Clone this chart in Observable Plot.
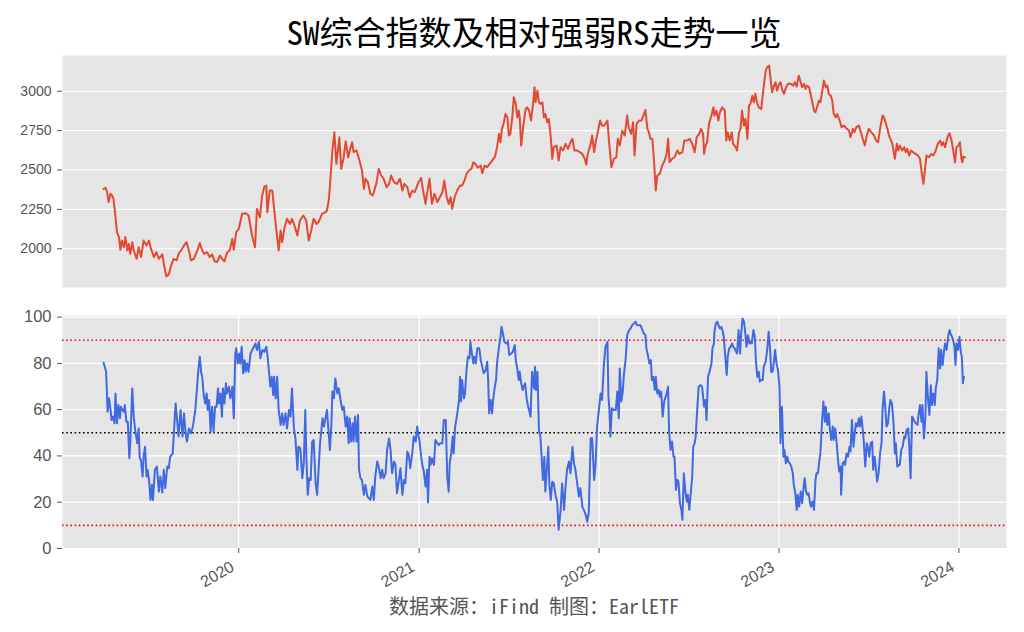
<!DOCTYPE html>
<html>
<head>
<meta charset="utf-8">
<script src="https://cdn.jsdelivr.net/npm/d3@7"></script>
<script src="https://cdn.jsdelivr.net/npm/@observablehq/plot@0.6"></script>
<style>
  html, body { margin: 0; padding: 0; background: #ffffff; }
  #wrap { position: relative; width: 1024px; height: 632px; overflow: hidden; background: #fff; }
  #title { position: absolute; left: 62px; width: 944px; top: 11px; text-align: center;
           font-family: "Noto Sans Mono CJK SC", "Noto Sans CJK SC", sans-serif; font-size: 33px; line-height: 40px; color: #000; }
  #top { position: absolute; left: 0; top: 45px; }
  #bottom { position: absolute; left: 0; top: 305px; }
  #caption { position: absolute; left: 62px; width: 944px; top: 595px; text-align: center;
             font-family: "Noto Sans Mono CJK SC", "Noto Sans CJK SC", sans-serif; font-size: 20px; line-height: 22px; color: #555; }
</style>
</head>
<body>
<div id="wrap">
  <div id="title"></div>
  <div id="top"></div>
  <div id="bottom"></div>
  <div id="caption"></div>
</div>
<script>
const titleText = "SW综合指数及相对强弱RS走势一览";
const captionText = "数据来源：iFind 制图：EarlETF";

// SW composite index
const indexDates = [
"2019-04-02","2019-04-06","2019-04-09","2019-04-12","2019-04-16","2019-04-19","2019-04-22","2019-04-26","2019-04-29",
"2019-05-03","2019-05-06","2019-05-09","2019-05-13","2019-05-16","2019-05-20","2019-05-23","2019-05-26","2019-05-30",
"2019-06-02","2019-06-08","2019-06-12","2019-06-17","2019-06-22","2019-06-28",
"2019-07-03","2019-07-07","2019-07-13","2019-07-18","2019-07-23","2019-07-30",
"2019-08-02","2019-08-07","2019-08-12","2019-08-17","2019-08-22","2019-08-28",
"2019-09-01","2019-09-06","2019-09-12","2019-09-17","2019-09-22","2019-09-26",
"2019-10-02","2019-10-09","2019-10-14","2019-10-19","2019-10-23","2019-10-29",
"2019-11-03","2019-11-08","2019-11-13","2019-11-18","2019-11-24","2019-11-28",
"2019-12-03","2019-12-08","2019-12-14","2019-12-19","2019-12-22","2019-12-27",
"2020-01-01","2020-01-08","2020-01-15","2020-01-21","2020-01-28",
"2020-02-03","2020-02-07","2020-02-13","2020-02-17","2020-02-22","2020-02-26","2020-02-28",
"2020-03-04","2020-03-09","2020-03-16","2020-03-19","2020-03-22","2020-03-26","2020-03-29",
"2020-04-03","2020-04-08","2020-04-14","2020-04-18","2020-04-23","2020-04-29",
"2020-05-04","2020-05-11","2020-05-17","2020-05-22","2020-05-27",
"2020-06-01","2020-06-07","2020-06-11","2020-06-18","2020-06-25","2020-06-28",
"2020-07-02","2020-07-05","2020-07-09","2020-07-13","2020-07-17","2020-07-21","2020-07-23","2020-07-27",
"2020-08-01","2020-08-05","2020-08-10","2020-08-15","2020-08-18","2020-08-21","2020-08-27",
"2020-09-01","2020-09-07","2020-09-11","2020-09-14","2020-09-19","2020-09-24","2020-09-29",
"2020-10-06","2020-10-11","2020-10-16","2020-10-21","2020-10-27",
"2020-11-01","2020-11-05","2020-11-11","2020-11-17","2020-11-23","2020-11-28",
"2020-12-02","2020-12-08","2020-12-13","2020-12-18","2020-12-23","2020-12-27","2020-12-31",
"2021-01-05","2021-01-09","2021-01-14","2021-01-17","2021-01-22","2021-01-27",
"2021-02-01","2021-02-07","2021-02-12","2021-02-17","2021-02-21","2021-02-26",
"2021-03-02","2021-03-06","2021-03-09","2021-03-14","2021-03-19","2021-03-25","2021-03-29",
"2021-04-03","2021-04-07","2021-04-12","2021-04-17","2021-04-21","2021-04-25","2021-04-30",
"2021-05-06","2021-05-09","2021-05-14","2021-05-19","2021-05-24","2021-05-29",
"2021-06-04","2021-06-08","2021-06-12","2021-06-15","2021-06-18","2021-06-22","2021-06-25","2021-06-29",
"2021-07-02","2021-07-05","2021-07-09","2021-07-12","2021-07-16","2021-07-19","2021-07-22","2021-07-24","2021-07-27","2021-07-31",
"2021-08-05","2021-08-08","2021-08-12","2021-08-16","2021-08-20","2021-08-23","2021-08-25","2021-08-29",
"2021-09-01","2021-09-04","2021-09-08","2021-09-11","2021-09-14","2021-09-18","2021-09-21","2021-09-25","2021-09-28",
"2021-10-01","2021-10-07","2021-10-11","2021-10-15","2021-10-20","2021-10-25","2021-10-30",
"2021-11-04","2021-11-08","2021-11-12","2021-11-18","2021-11-23","2021-11-28",
"2021-12-03","2021-12-06","2021-12-09","2021-12-15","2021-12-18","2021-12-22","2021-12-25","2021-12-30",
"2022-01-03","2022-01-07","2022-01-12","2022-01-18","2022-01-21","2022-01-26","2022-01-31",
"2022-02-05","2022-02-08","2022-02-12","2022-02-17","2022-02-22","2022-02-27",
"2022-03-02","2022-03-07","2022-03-11","2022-03-14","2022-03-18","2022-03-23","2022-03-28",
"2022-04-02","2022-04-05","2022-04-09","2022-04-12","2022-04-15","2022-04-19","2022-04-22","2022-04-26","2022-04-29",
"2022-05-04","2022-05-09","2022-05-14","2022-05-18","2022-05-21","2022-05-24","2022-05-29",
"2022-06-03","2022-06-09","2022-06-13","2022-06-19","2022-06-23","2022-06-29",
"2022-07-04","2022-07-09","2022-07-14","2022-07-18","2022-07-23","2022-07-27","2022-07-31",
"2022-08-02","2022-08-05","2022-08-08","2022-08-12","2022-08-17","2022-08-21","2022-08-23","2022-08-27","2022-08-31",
"2022-09-03","2022-09-08","2022-09-13","2022-09-16","2022-09-19","2022-09-23","2022-09-27","2022-09-30",
"2022-10-05","2022-10-08","2022-10-12","2022-10-15","2022-10-18","2022-10-22","2022-10-25","2022-10-29",
"2022-11-01","2022-11-04","2022-11-08","2022-11-11","2022-11-14","2022-11-18","2022-11-21","2022-11-26","2022-11-30",
"2022-12-05","2022-12-08","2022-12-12","2022-12-15","2022-12-18","2022-12-22","2022-12-25","2022-12-28",
"2023-01-01","2023-01-04","2023-01-08","2023-01-11","2023-01-14","2023-01-19","2023-01-25","2023-01-30",
"2023-02-02","2023-02-06","2023-02-10","2023-02-14","2023-02-17","2023-02-21","2023-02-24","2023-02-27",
"2023-03-03","2023-03-06","2023-03-09","2023-03-13","2023-03-16","2023-03-20","2023-03-23","2023-03-26","2023-03-30",
"2023-04-02","2023-04-06","2023-04-09","2023-04-12","2023-04-16","2023-04-19","2023-04-22","2023-04-26","2023-04-29",
"2023-05-04","2023-05-08","2023-05-13","2023-05-17","2023-05-23","2023-05-26","2023-05-31",
"2023-06-03","2023-06-07","2023-06-12","2023-06-17","2023-06-21","2023-06-24","2023-06-28",
"2023-07-02","2023-07-07","2023-07-13","2023-07-17","2023-07-21","2023-07-25","2023-07-30",
"2023-08-02","2023-08-05","2023-08-09","2023-08-12","2023-08-15","2023-08-19","2023-08-24","2023-08-28","2023-08-31",
"2023-09-03","2023-09-08","2023-09-12","2023-09-15","2023-09-18","2023-09-22","2023-09-26","2023-09-30",
"2023-10-05","2023-10-10","2023-10-14","2023-10-17","2023-10-21","2023-10-24","2023-10-27",
"2023-11-01","2023-11-06","2023-11-10","2023-11-15","2023-11-19","2023-11-24","2023-11-27","2023-11-30",
"2023-12-04","2023-12-07","2023-12-10","2023-12-13","2023-12-17","2023-12-20","2023-12-24","2023-12-27","2023-12-31",
"2024-01-03","2024-01-06","2024-01-08","2024-01-10","2024-01-13"
];
const indexValues = [
2380,2387,2359,2296,2349,2338,2317,2200,2105,
2074,1993,2052,2010,2074,1989,2031,1968,2042,
1989,1936,2010,1947,2052,2021,
2052,1999,1947,1978,1936,1964,
1904,1824,1837,1894,1936,1926,
1968,1989,2021,2042,1989,1926,
1936,1989,2036,1989,1968,1978,
1947,1964,1921,1915,1957,1936,
1921,1972,1993,2063,1993,2105,
2126,2222,2226,2211,2084,
2010,2253,2200,2327,2395,2401,2232,
2370,2370,2158,2074,1989,2116,2042,
2137,2190,2158,2190,2148,2084,
2179,2211,2179,2052,2116,
2190,2158,2169,2222,2232,2243,
2317,2444,2624,2740,2539,2645,2708,2507,
2581,2683,2581,2645,2676,2613,2624,
2571,2497,2380,2444,2423,2349,2338,
2412,2507,2465,2444,2391,
2412,2465,2423,2412,2444,2370,
2412,2391,2327,2370,2359,2391,2423,
2450,2370,2285,2349,2444,2285,
2349,2296,2327,2359,2433,2327,
2285,2327,2253,2327,2370,2401,2401,
2433,2475,2497,2507,2549,2539,2514,
2528,2480,2528,2518,2539,2560,
2585,2645,2729,2676,2761,2803,2856,2835,
2719,2729,2835,2962,2920,2835,2877,2835,2655,2772,
2888,2898,2877,2814,2920,3025,2930,3004,
2930,2920,2930,2835,2856,2803,2824,2708,2571,
2645,2655,2560,2645,2624,2666,2634,
2676,2698,2624,2624,2613,2602,
2571,2533,2602,2666,2719,2613,2676,2750,
2814,2782,2782,2814,2687,2518,2571,
2581,2698,2655,2750,2719,2846,
2772,2729,2803,2592,2793,2814,2814,
2856,2881,2761,2740,2698,2698,2581,2370,2465,
2475,2528,2560,2602,2698,2549,2571,
2581,2624,2602,2613,2687,2687,
2698,2666,2613,2708,2729,2761,2729,
2602,2655,2676,2793,2846,2898,2846,2877,2814,
2867,2898,2877,2687,2740,2687,2740,2666,
2645,2624,2740,2761,2877,2782,2824,2698,
2909,2920,2972,2930,2983,2920,2898,2888,3004,
3131,3152,3163,3078,2994,3036,3057,3004,
3047,3057,3004,2983,3015,3047,3047,3036,
3057,3030,3099,3057,3025,3047,3015,3036,
3025,2983,2941,2877,2867,2909,2941,2930,3004,
3068,3025,3036,2983,2972,2941,2856,2835,2856,
2814,2772,2782,2767,2750,2708,2761,
2740,2772,2782,2729,2687,2655,2719,
2761,2740,2719,2687,2676,2761,2846,
2835,2803,2761,2719,2698,2666,2571,2666,2624,
2655,2624,2645,2613,2634,2592,2624,2613,
2602,2592,2571,2497,2412,2497,2592,
2581,2602,2592,2624,2666,2687,2655,2676,
2645,2687,2719,2733,2687,2634,2549,2645,2655,
2676,2571,2549,2585,2581
];

// Relative strength RS
const rsDates = [
"2019-04-02","2019-04-07","2019-04-10","2019-04-13","2019-04-16","2019-04-18","2019-04-21","2019-04-24","2019-04-26","2019-04-29",
"2019-05-02","2019-05-05","2019-05-07","2019-05-10","2019-05-13","2019-05-15","2019-05-18","2019-05-21","2019-05-24","2019-05-26","2019-05-30",
"2019-06-02","2019-06-05","2019-06-09","2019-06-12","2019-06-14","2019-06-17","2019-06-20","2019-06-22","2019-06-25","2019-06-28","2019-06-30",
"2019-07-03","2019-07-06","2019-07-09","2019-07-11","2019-07-15","2019-07-19","2019-07-23","2019-07-26","2019-07-30",
"2019-08-02","2019-08-05","2019-08-09","2019-08-12","2019-08-15","2019-08-20","2019-08-22","2019-08-26","2019-08-29",
"2019-09-01","2019-09-05","2019-09-09","2019-09-12","2019-09-15","2019-09-18","2019-09-22","2019-09-26","2019-09-30",
"2019-10-05","2019-10-09","2019-10-11","2019-10-14","2019-10-17","2019-10-19","2019-10-22","2019-10-25","2019-10-28","2019-10-30",
"2019-11-02","2019-11-05","2019-11-08","2019-11-11","2019-11-14","2019-11-17","2019-11-20","2019-11-22","2019-11-25","2019-11-28","2019-11-30",
"2019-12-03","2019-12-06","2019-12-08","2019-12-12","2019-12-15","2019-12-19","2019-12-22","2019-12-25","2019-12-27","2019-12-30",
"2020-01-02","2020-01-04","2020-01-07","2020-01-10","2020-01-13","2020-01-15","2020-01-18","2020-01-21","2020-01-25","2020-01-30",
"2020-02-04","2020-02-07","2020-02-11","2020-02-14","2020-02-18","2020-02-22","2020-02-26","2020-02-29",
"2020-03-03","2020-03-05","2020-03-08","2020-03-11","2020-03-13","2020-03-16","2020-03-19","2020-03-22","2020-03-26","2020-03-29",
"2020-04-01","2020-04-05","2020-04-08","2020-04-12","2020-04-15","2020-04-18","2020-04-22","2020-04-25","2020-04-29",
"2020-05-01","2020-05-05","2020-05-09","2020-05-12","2020-05-15","2020-05-17","2020-05-20","2020-05-23","2020-05-26","2020-05-29",
"2020-06-01","2020-06-05","2020-06-08","2020-06-11","2020-06-14","2020-06-16","2020-06-19","2020-06-22","2020-06-25","2020-06-28",
"2020-07-01","2020-07-04","2020-07-07","2020-07-09","2020-07-12","2020-07-15","2020-07-19","2020-07-22","2020-07-25","2020-07-29",
"2020-08-01","2020-08-05","2020-08-08","2020-08-11","2020-08-13","2020-08-16","2020-08-19","2020-08-21","2020-08-24","2020-08-27","2020-08-30",
"2020-09-01","2020-09-04","2020-09-07","2020-09-11","2020-09-14","2020-09-18","2020-09-21","2020-09-24","2020-09-28",
"2020-10-01","2020-10-04","2020-10-08","2020-10-11","2020-10-15","2020-10-18","2020-10-21","2020-10-25","2020-10-28",
"2020-11-01","2020-11-04","2020-11-07","2020-11-11","2020-11-14","2020-11-17","2020-11-21","2020-11-24","2020-11-28",
"2020-12-01","2020-12-04","2020-12-08","2020-12-11","2020-12-14","2020-12-18","2020-12-21","2020-12-25","2020-12-28","2020-12-31",
"2021-01-02","2021-01-05","2021-01-08","2021-01-10","2021-01-14","2021-01-17","2021-01-19","2021-01-22","2021-01-24","2021-01-27","2021-01-31",
"2021-02-03","2021-02-07","2021-02-10","2021-02-13","2021-02-17","2021-02-20","2021-02-24","2021-02-27",
"2021-03-02","2021-03-04","2021-03-07","2021-03-10","2021-03-12","2021-03-15","2021-03-19","2021-03-23","2021-03-25","2021-03-27","2021-03-29",
"2021-04-02","2021-04-04","2021-04-07","2021-04-10","2021-04-13","2021-04-15","2021-04-18","2021-04-21","2021-04-23","2021-04-26","2021-04-29",
"2021-05-03","2021-05-06","2021-05-09","2021-05-12","2021-05-16","2021-05-19","2021-05-21","2021-05-23","2021-05-26","2021-05-29","2021-05-31",
"2021-06-03","2021-06-06","2021-06-08","2021-06-12","2021-06-15","2021-06-17","2021-06-20","2021-06-23","2021-06-27","2021-06-30",
"2021-07-03","2021-07-07","2021-07-10","2021-07-14","2021-07-16","2021-07-19","2021-07-22","2021-07-24","2021-07-27","2021-07-30",
"2021-08-01","2021-08-04","2021-08-07","2021-08-10","2021-08-12","2021-08-15","2021-08-18","2021-08-22","2021-08-24","2021-08-26","2021-08-29",
"2021-09-01","2021-09-04","2021-09-06","2021-09-09","2021-09-12","2021-09-14","2021-09-17","2021-09-20","2021-09-22","2021-09-25","2021-09-28",
"2021-10-01","2021-10-05","2021-10-08","2021-10-11","2021-10-15","2021-10-18","2021-10-22","2021-10-25","2021-10-28",
"2021-11-01","2021-11-04","2021-11-08","2021-11-11","2021-11-14","2021-11-18","2021-11-21","2021-11-24","2021-11-28",
"2021-12-01","2021-12-05","2021-12-08","2021-12-11","2021-12-15","2021-12-18","2021-12-22","2021-12-25","2021-12-28",
"2022-01-01","2022-01-04","2022-01-07","2022-01-11","2022-01-14","2022-01-18","2022-01-20","2022-01-22","2022-01-24","2022-01-27","2022-01-31",
"2022-02-04","2022-02-07","2022-02-10","2022-02-12","2022-02-15","2022-02-18","2022-02-20","2022-02-24","2022-02-27",
"2022-03-03","2022-03-06","2022-03-09","2022-03-13","2022-03-16","2022-03-19","2022-03-23","2022-03-26","2022-03-30",
"2022-04-02","2022-04-05","2022-04-07","2022-04-10","2022-04-13","2022-04-16","2022-04-18","2022-04-21","2022-04-24","2022-04-26","2022-04-29",
"2022-05-02","2022-05-04","2022-05-07","2022-05-10","2022-05-13","2022-05-15","2022-05-18","2022-05-21","2022-05-23","2022-05-26","2022-05-29",
"2022-06-01","2022-06-03","2022-06-06","2022-06-09","2022-06-11","2022-06-14","2022-06-17","2022-06-19","2022-06-22","2022-06-25","2022-06-28","2022-06-30",
"2022-07-03","2022-07-09","2022-07-11","2022-07-14","2022-07-16","2022-07-19","2022-07-22","2022-07-26","2022-07-29",
"2022-08-02","2022-08-05","2022-08-07","2022-08-10","2022-08-13","2022-08-17","2022-08-19","2022-08-22","2022-08-23","2022-08-26","2022-08-29","2022-08-31",
"2022-09-03","2022-09-06","2022-09-09","2022-09-11","2022-09-14","2022-09-17","2022-09-19","2022-09-22","2022-09-25","2022-09-28","2022-09-30",
"2022-10-03","2022-10-06","2022-10-08","2022-10-11","2022-10-14","2022-10-16","2022-10-19","2022-10-22","2022-10-25","2022-10-27","2022-10-30",
"2022-11-02","2022-11-04","2022-11-07","2022-11-10","2022-11-13","2022-11-15","2022-11-18","2022-11-21","2022-11-23","2022-11-26","2022-11-29",
"2022-12-01","2022-12-05","2022-12-08","2022-12-11","2022-12-14","2022-12-16","2022-12-19","2022-12-22","2022-12-24","2022-12-27","2022-12-30",
"2023-01-02","2023-01-04","2023-01-07","2023-01-10","2023-01-12","2023-01-15","2023-01-18","2023-01-20","2023-01-23","2023-01-26","2023-01-29","2023-01-31",
"2023-02-03","2023-02-06","2023-02-08","2023-02-11","2023-02-14","2023-02-17","2023-02-19","2023-02-22","2023-02-25","2023-02-27",
"2023-03-02","2023-03-05","2023-03-07","2023-03-10","2023-03-13","2023-03-16","2023-03-18","2023-03-21","2023-03-24","2023-03-26","2023-03-29",
"2023-04-01","2023-04-04","2023-04-06","2023-04-09","2023-04-12","2023-04-14","2023-04-17","2023-04-20","2023-04-22","2023-04-25","2023-04-28",
"2023-05-01","2023-05-03","2023-05-06","2023-05-07","2023-05-10","2023-05-13","2023-05-15","2023-05-18","2023-05-21","2023-05-24","2023-05-26","2023-05-29",
"2023-06-01","2023-06-03","2023-06-06","2023-06-09","2023-06-12","2023-06-14","2023-06-17","2023-06-20","2023-06-22","2023-06-25","2023-06-28","2023-06-30",
"2023-07-03","2023-07-06","2023-07-09","2023-07-11","2023-07-14","2023-07-17","2023-07-19","2023-07-22","2023-07-25","2023-07-28","2023-07-30",
"2023-08-02","2023-08-05","2023-08-07","2023-08-10","2023-08-13","2023-08-15","2023-08-18","2023-08-21","2023-08-24","2023-08-26","2023-08-29",
"2023-09-01","2023-09-03","2023-09-06","2023-09-09","2023-09-12","2023-09-14","2023-09-17","2023-09-20","2023-09-22","2023-09-25","2023-09-28","2023-09-30",
"2023-10-03","2023-10-06","2023-10-09","2023-10-11","2023-10-14","2023-10-17","2023-10-19","2023-10-22","2023-10-25","2023-10-27","2023-10-30",
"2023-11-02","2023-11-05","2023-11-07","2023-11-10","2023-11-13","2023-11-15","2023-11-18","2023-11-21","2023-11-24","2023-11-26","2023-11-29",
"2023-12-02","2023-12-04","2023-12-07","2023-12-10","2023-12-13","2023-12-15","2023-12-18","2023-12-21","2023-12-23","2023-12-25","2023-12-27","2023-12-30",
"2024-01-02","2024-01-05","2024-01-07","2024-01-09","2024-01-11"
];
const rsValues = [
80.3,76.4,59.1,64.9,59.9,55.5,57.0,54.1,67.0,54.1,
62.0,56.3,61.3,59.9,59.1,62.0,54.8,54.8,39.0,45.5,69.2,
57.0,51.2,45.5,51.9,39.7,37.6,31.1,39.7,44.0,31.1,34.0,
29.6,21.0,27.5,21.0,34.0,35.4,24.6,31.1,24.2,
34.0,26.1,35.4,34.7,39.7,41.1,48.4,62.7,55.5,
48.4,59.9,48.4,58.4,50.5,46.2,51.9,49.8,52.7,
59.9,71.4,77.1,82.9,75.7,74.2,66.3,62.7,67.0,59.9,
64.2,50.5,61.3,50.5,61.3,61.3,69.2,62.7,67.0,57.0,69.2,
62.7,71.4,67.0,69.9,64.9,69.9,56.3,84.3,86.5,80.0,
84.3,80.0,87.2,75.7,81.4,76.4,80.0,76.4,84.3,86.5,
88.6,85.8,89.3,82.2,85.8,85.0,87.2,82.2,
75.0,69.9,74.2,66.3,74.2,64.9,74.2,59.9,53.4,58.4,
53.4,58.4,51.9,59.9,57.0,69.2,51.9,47.6,34.0,
44.0,43.3,30.4,36.8,59.9,41.1,23.2,30.4,29.6,46.2,
46.9,28.2,23.2,34.0,45.5,49.8,56.3,52.7,56.3,59.9,
51.2,42.6,54.1,67.8,64.9,73.5,67.0,69.2,64.9,59.9,
61.3,52.7,57.0,45.5,56.3,46.2,54.1,46.2,57.0,46.2,57.7,
34.0,30.4,29.6,23.2,27.5,22.5,21.7,21.0,26.8,
21.0,31.1,37.6,35.4,30.4,34.0,30.4,32.5,42.6,
47.6,42.6,32.5,37.6,36.1,23.9,29.6,34.7,23.2,
29.6,28.2,41.9,40.4,34.7,41.1,48.4,46.2,52.7,48.4,
46.2,39.7,35.4,34.0,26.8,34.0,19.9,39.7,36.1,39.0,36.1,
46.9,45.5,44.7,45.5,45.5,55.5,55.5,31.1,
24.6,36.8,41.1,48.4,41.1,52.7,57.7,64.2,74.2,63.5,72.8,
64.9,67.0,77.1,82.9,82.2,89.3,84.3,80.0,82.9,80.0,86.5,
86.5,81.4,78.6,75.7,77.1,80.7,72.8,58.4,64.2,58.4,64.2,
69.2,72.8,80.0,87.2,91.5,95.8,92.9,89.3,88.6,89.3,
83.6,84.3,85.0,87.9,81.4,77.8,72.8,76.4,71.4,68.5,
69.9,71.4,64.9,61.3,59.9,57.0,76.4,69.2,78.6,68.5,76.4,
51.2,48.4,41.1,29.6,39.7,24.6,34.0,44.0,28.2,21.0,28.9,
28.2,22.5,20.3,8.1,16.7,28.2,16.7,26.8,34.0,
37.6,32.5,44.0,36.8,34.0,27.5,22.5,26.1,18.1,
16.7,14.5,11.6,15.3,47.6,47.6,29.6,36.8,52.7,
60.6,67.0,64.2,80.0,87.2,89.3,65.6,59.9,48.4,60.6,59.9,
59.9,67.8,56.3,77.8,63.5,67.8,74.2,82.2,92.2,
94.4,95.1,96.5,97.3,98.0,96.5,96.5,96.5,94.4,
92.9,92.2,86.5,83.6,80.0,81.4,72.8,74.2,68.5,74.2,67.0,
68.5,65.6,67.8,57.0,63.5,64.9,67.0,69.9,50.5,42.6,46.2,
39.7,39.7,25.3,29.6,28.9,19.6,16.7,12.4,32.5,24.6,20.3,23.2,
16.7,31.1,44.0,45.5,48.4,59.9,69.9,70.6,69.9,
61.3,64.2,55.5,74.2,76.4,80.0,86.5,88.6,93.7,97.3,98.0,96.5,
95.1,95.8,93.7,91.5,82.9,75.0,82.9,86.5,87.2,88.6,87.2,
86.5,85.0,84.3,94.4,84.3,92.2,99.4,98.0,92.2,87.2,92.2,
88.6,89.3,88.6,94.4,91.5,81.4,74.2,76.4,72.1,72.8,72.8,
78.6,80.7,85.8,93.7,85.8,76.4,76.4,81.4,85.8,80.0,77.1,
69.9,45.5,61.3,39.7,42.6,36.8,39.7,37.6,36.8,35.4,32.5,27.5,
23.9,16.7,23.2,18.1,24.6,19.6,24.6,30.4,24.6,23.2,
23.9,19.6,18.1,20.3,16.7,29.6,32.5,32.5,38.3,41.1,54.1,
63.5,54.8,61.3,53.4,58.4,51.9,46.9,52.7,46.9,51.9,45.5,
37.6,33.3,35.4,23.2,36.8,37.6,36.1,41.1,39.7,44.0,41.9,55.5,
44.0,48.4,54.1,52.7,56.3,52.7,57.0,51.2,46.2,35.4,45.5,44.0,
39.7,45.5,46.2,34.0,39.7,34.0,28.9,32.5,41.1,45.5,59.9,
67.8,59.9,52.7,54.1,61.3,64.2,62.7,55.5,41.1,45.5,35.4,
36.1,36.1,42.6,44.0,48.4,47.6,51.2,51.9,45.5,30.4,57.0,56.3,
54.8,54.1,53.4,57.7,62.0,54.8,62.0,47.6,57.0,76.4,65.6,
57.7,70.6,62.0,67.0,62.0,69.2,72.8,86.5,77.8,85.8,79.3,
85.8,88.6,85.8,91.5,94.4,92.9,91.5,89.3,87.2,79.3,88.6,85.8,
91.5,84.3,82.9,71.4,74.2
];

// Axis ticks and reference levels
const indexTicks = [2000, 2250, 2500, 2750, 3000];
const rsTicks = [0, 20, 40, 60, 80, 100];
const yearLabels = ["2020", "2021", "2022", "2023", "2024"];
const bandLevels = [90, 10];
const midLevel = [50];

if (indexDates.length !== indexValues.length) console.error("index length mismatch", indexDates.length, indexValues.length);
if (rsDates.length !== rsValues.length) console.error("rs length mismatch", rsDates.length, rsValues.length);

const indexData = indexDates.map((d, i) => ({date: new Date(d + "T00:00:00Z"), value: indexValues[i]}));
const rsData = rsDates.map((d, i) => ({date: new Date(d + "T00:00:00Z"), value: rsValues[i]}));
const yearTicks = yearLabels.map(y => new Date(y + "-01-01T00:00:00Z"));
const xDomain = [new Date("2019-01-08T12:00:00Z"), new Date("2024-04-06T12:00:00Z")];

const tickFont = '"Liberation Sans", Arial, sans-serif';
const W = 1024;
const yearLabel = d => yearLabels[yearTicks.findIndex(t => +t === +d)];

document.getElementById("title").textContent = titleText;
document.getElementById("caption").textContent = captionText;

const topChart = Plot.plot({
  width: W, height: 250,
  marginTop: 10, marginBottom: 8, marginLeft: 62, marginRight: 18,
  style: {background: "transparent", fontFamily: tickFont},
  x: {type: "utc", domain: xDomain, axis: null},
  y: {domain: [1754, 3227], axis: null},
  marks: [
    Plot.frame({fill: "#E5E5E5", stroke: "none"}),
    Plot.gridY(indexTicks, {stroke: "#ffffff", strokeOpacity: 1, strokeWidth: 1.2}),
    Plot.axisY(indexTicks, {anchor: "left", tickSize: 5, tickPadding: 6, fontSize: 14, color: "#555555", label: null,
      fontFamily: tickFont, tickFormat: d => String(d)}),
    Plot.lineY(indexData, {x: "date", y: "value", stroke: "#E24A33", strokeWidth: 2})
  ]
});
document.getElementById("top").appendChild(topChart);

const bottomChart = Plot.plot({
  width: W, height: 300,
  marginTop: 10, marginBottom: 57, marginLeft: 62, marginRight: 18,
  style: {background: "transparent", fontFamily: tickFont},
  x: {type: "utc", domain: xDomain},
  y: {domain: [0, 100.7]},
  marks: [
    Plot.frame({fill: "#E5E5E5", stroke: "none"}),
    Plot.gridY(rsTicks, {stroke: "#ffffff", strokeOpacity: 1, strokeWidth: 1.2}),
    Plot.gridX(yearTicks, {stroke: "#ffffff", strokeOpacity: 1, strokeWidth: 1.2}),
    Plot.ruleY(bandLevels, {stroke: "#e8151b", strokeWidth: 1.6, strokeDasharray: "1.6,2.6"}),
    Plot.ruleY(midLevel, {stroke: "#000000", strokeWidth: 1.6, strokeDasharray: "1.6,2.6"}),
    Plot.lineY(rsData, {x: "date", y: "value", stroke: "#4169E1", strokeWidth: 2}),
    Plot.axisY(rsTicks, {anchor: "left", tickSize: 5, tickPadding: 6, fontSize: 16.5, color: "#555555", label: null, fontFamily: tickFont}),
    // tick marks only
    Plot.axisX(yearTicks, {anchor: "bottom", tickSize: 5, tickFormat: () => "", color: "#555555", label: null}),
    // rotated labels, offset like matplotlib's right-aligned rotated labels
    Plot.axisX(yearTicks, {anchor: "bottom", tickSize: 0, tickPadding: 17, dx: -6, tickRotate: -30, fontSize: 16, color: "#555555", label: null,
      fontFamily: tickFont, tickFormat: yearLabel})
  ]
});
document.getElementById("bottom").appendChild(bottomChart);
</script>
</body>
</html>
